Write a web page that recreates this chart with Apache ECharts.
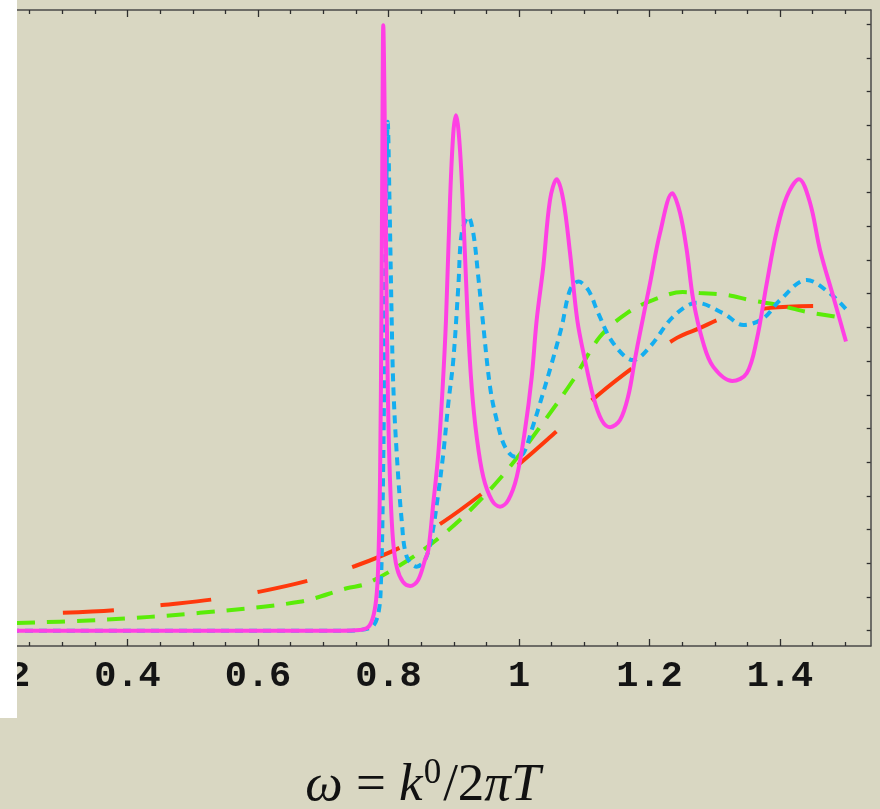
<!DOCTYPE html>
<html>
<head>
<meta charset="utf-8">
<title>spectral curves</title>
<script src="https://cdn.jsdelivr.net/npm/echarts@6/dist/echarts.min.js"></script>
<style>
  html, body { margin: 0; padding: 0; background: #d9d7c2; }
  #main { width: 880px; height: 809px; }
</style>
</head>
<body>
<div id="main"></div>
<script type="text/javascript">
// axis range and ticks
var X_MIN = 0.2, X_MAX = 1.539;
var Y_MIN = -0.454, Y_MAX = 18.42;
var xMajor = [0.2, 0.4, 0.6, 0.8, 1.0, 1.2, 1.4];
var xTickLabels = ['0.2', '0.4', '0.6', '0.8', '1', '1.2', '1.4'];
var xMinor = [0.25, 0.3, 0.35, 0.45, 0.5, 0.55, 0.65, 0.7, 0.75, 0.85, 0.9, 0.95,
              1.05, 1.1, 1.15, 1.25, 1.3, 1.35, 1.45, 1.5];
var yTicks = [0, 1, 2, 3, 4, 5, 6, 7, 8, 9, 10, 11, 12, 13, 14, 15, 16, 17, 18];

// red, long dashes
var redCurve = [[0.301, 0.53], [0.381, 0.61], [0.453, 0.76], [0.531, 0.93], [0.603, 1.16],
  [0.680, 1.50], [0.749, 1.92], [0.820, 2.49], [0.884, 3.23], [0.945, 4.09], [1.004, 5.01],
  [1.063, 6.01], [1.119, 6.96], [1.180, 7.88], [1.242, 8.69], [1.277, 8.98], [1.313, 9.28],
  [1.385, 9.58], [1.461, 9.64]];

// green, dashes
var greenCurve = [[0.2, 0.21], [0.358, 0.32], [0.511, 0.53], [0.664, 0.86], [0.736, 1.26],
  [0.767, 1.40], [0.828, 2.07], [0.879, 2.78], [0.930, 3.67], [0.982, 4.77], [1.032, 6.04],
  [1.083, 7.44], [1.124, 8.72], [1.166, 9.43], [1.205, 9.81], [1.251, 10.05], [1.277, 10.02],
  [1.319, 9.96], [1.354, 9.81], [1.395, 9.67], [1.441, 9.46], [1.500, 9.28]];

// blue, short dashes
var blueCurve = [[0.2, 0], [0.726, 0], [0.7716, 0.08], [0.7839, 0.47], [0.7885, 1.50],
  [0.7916, 4.47], [0.7946, 9.81], [0.7969, 13.37], [0.7988, 15.10], [0.8015, 12.78],
  [0.8049, 9.22], [0.8074, 7.24], [0.8126, 5.26], [0.8202, 3.28], [0.8279, 2.20],
  [0.8432, 1.90], [0.8559, 2.10], [0.8662, 2.79], [0.8763, 4.08], [0.884, 5.26],
  [0.8917, 6.75], [0.8993, 8.03], [0.907, 10.21], [0.9122, 11.79], [0.9223, 12.28],
  [0.93, 11.79], [0.9376, 10.50], [0.9444, 9.22], [0.9556, 7.24], [0.9658, 6.25],
  [0.9785, 5.46], [0.9939, 5.16], [1.0066, 5.26], [1.0195, 5.96], [1.0322, 6.75],
  [1.0501, 7.93], [1.0654, 9.02], [1.0782, 10.11], [1.0909, 10.36], [1.1062, 10.11],
  [1.1215, 9.42], [1.1445, 8.53], [1.1752, 8.03], [1.2008, 8.43], [1.2365, 9.32],
  [1.2723, 9.73], [1.3131, 9.42], [1.3438, 9.07], [1.3744, 9.27], [1.4, 9.81],
  [1.4409, 10.41], [1.4766, 10.01], [1.5022, 9.52]];

// magenta, solid
var pinkCurve = [[0.2, 0], [0.726, 0], [0.756, 0.02], [0.769, 0.11], [0.776, 0.38],
  [0.781, 0.91], [0.784, 1.80], [0.787, 4.47], [0.7893, 9.81], [0.7908, 15.15],
  [0.792, 17.97], [0.7939, 15.74], [0.7962, 11.30], [0.7992, 6.85], [0.8023, 4.47],
  [0.8069, 2.69], [0.813, 1.86], [0.8222, 1.45], [0.833, 1.33], [0.8452, 1.50],
  [0.8559, 2.10], [0.861, 2.39], [0.8687, 3.79], [0.8764, 5.27], [0.883, 7.23],
  [0.8881, 9.22], [0.8943, 12.78], [0.8993, 14.77], [0.9034, 15.30], [0.9085, 14.56],
  [0.9137, 12.78], [0.9214, 9.22], [0.9275, 7.23], [0.9352, 5.75], [0.9453, 4.56],
  [0.9582, 3.88], [0.9709, 3.68], [0.9836, 3.88], [0.9965, 4.56], [1.0092, 5.96],
  [1.0195, 7.53], [1.0271, 9.22], [1.0372, 10.80], [1.0475, 12.78], [1.0578, 13.40],
  [1.0679, 12.78], [1.0782, 11.21], [1.0893, 9.22], [1.1011, 8.03], [1.1139, 6.94],
  [1.1267, 6.25], [1.1395, 6.04], [1.1548, 6.25], [1.1675, 6.97], [1.1778, 8.07],
  [1.1854, 8.83], [1.2008, 10.31], [1.2161, 11.80], [1.2349, 12.98], [1.2467, 12.40],
  [1.257, 11.30], [1.2671, 9.81], [1.2825, 8.53], [1.2978, 7.83], [1.3269, 7.41],
  [1.349, 7.64], [1.3643, 8.63], [1.3796, 10.30], [1.3949, 11.85], [1.4103, 12.88],
  [1.4291, 13.40], [1.446, 12.70], [1.4613, 11.30], [1.4817, 9.91], [1.5011, 8.58]];

var frameColor = '#4a4a48';
var tickFont = 'Liberation Mono';

function tickLabel(v) {
    for (var i = 0; i < xMajor.length; i++) {
        if (Math.abs(xMajor[i] - v) < 1e-6) return xTickLabels[i];
    }
    return '';
}

function xAxisDef(pos, major, withLine) {
    return {
        type: 'value', min: X_MIN, max: X_MAX, position: pos,
        axisLine: { show: withLine, onZero: false, lineStyle: { color: frameColor, width: 1.5 } },
        axisTick: {
            show: true, inside: true, length: major ? 7 : 4,
            customValues: major ? xMajor : xMinor,
            lineStyle: { color: '#2e2e2e', width: 1.3 }
        },
        axisLabel: { show: false },
        splitLine: { show: false }
    };
}

var myChart = echarts.init(document.getElementById('main'));

var bottomMajor = xAxisDef('bottom', true, true);
bottomMajor.axisLabel = {
    show: true, customValues: xMajor, formatter: tickLabel, margin: 12,
    fontFamily: tickFont, fontWeight: 'bold', fontSize: 37, color: '#141414'
};
// omega = k^0 / 2 pi T
bottomMajor.name = '{i|ω}{n| = }{i|k}{s|0}{n|/2}{i|πT}';
bottomMajor.nameLocation = 'middle';
bottomMajor.nameGap = 110;
bottomMajor.nameTextStyle = {
    padding: [0, 22, 0, 0],
    rich: {
        i: { fontFamily: 'Liberation Serif', fontStyle: 'italic', fontSize: 53, color: '#111', lineHeight: 60 },
        n: { fontFamily: 'Liberation Serif', fontSize: 53, color: '#111', lineHeight: 60 },
        s: { fontFamily: 'Liberation Serif', fontSize: 35, color: '#111', lineHeight: 60, verticalAlign: 'top', padding: [0, 2, 22, 1] }
    }
};

var option = {
    backgroundColor: '#d9d7c2',
    animation: false,
    grid: { left: -3, right: 9.3, top: 10, bottom: 163, containLabel: false, outerBoundsMode: 'none' },
    xAxis: [
        bottomMajor,
        xAxisDef('bottom', false, false),
        xAxisDef('top', true, true),
        xAxisDef('top', false, false)
    ],
    yAxis: [
        {
            type: 'value', min: Y_MIN, max: Y_MAX, position: 'left',
            axisLine: { show: true, onZero: false, lineStyle: { color: frameColor, width: 1.5 } },
            axisTick: { show: false }, axisLabel: { show: false }, splitLine: { show: false }
        },
        {
            type: 'value', min: Y_MIN, max: Y_MAX, position: 'right',
            axisLine: { show: true, onZero: false, lineStyle: { color: frameColor, width: 1.5 } },
            axisTick: { show: true, inside: true, length: 4, customValues: yTicks,
                        lineStyle: { color: '#2e2e2e', width: 1.3 } },
            axisLabel: { show: false }, splitLine: { show: false }
        }
    ],
    series: [
        {
            name: 'red', type: 'line', data: redCurve, symbol: 'none', smooth: 0.35,
            lineStyle: { color: '#ff380c', width: 4, type: [51, 47] }
        },
        {
            name: 'green', type: 'line', data: greenCurve, symbol: 'none', smooth: 0.35,
            lineStyle: { color: '#5aec08', width: 4, type: [18, 12], dashOffset: 10 }
        },
        {
            name: 'blue', type: 'line', data: blueCurve, symbol: 'none', smooth: 0.35,
            lineStyle: { color: '#14aef0', width: 4, type: [8, 6] }
        },
        {
            name: 'magenta', type: 'line', data: pinkCurve, symbol: 'none', smooth: 0.35,
            lineStyle: { color: '#ff40e4', width: 4 }
        }
    ],
    graphic: [
        { type: 'rect', left: 0, top: 0, z: 100, shape: { width: 17, height: 718 }, style: { fill: '#ffffff' } }
    ]
};

myChart.setOption(option);
</script>
</body>
</html>
